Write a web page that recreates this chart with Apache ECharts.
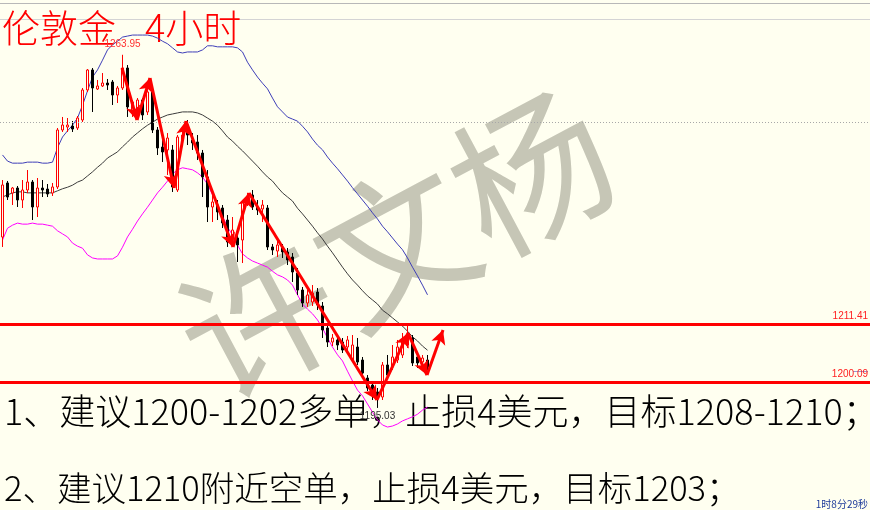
<!DOCTYPE html>
<html><head><meta charset="utf-8">
<script src="https://cdn.jsdelivr.net/npm/echarts@6/dist/echarts.min.js"></script>
<style>html,body{margin:0;padding:0;background:#fffff0;}#c{width:870px;height:510px;}</style>
</head><body><div id="c"></div>
<script>
// ---- data (4-hour XAUUSD candles) ----
const opens = [1228.39,1238.93,1236.97,1237.95,1235.61,1237.56,1239.12,1234.24,1237.95,1237.75,
1236.97,1238.15,1249.27,1249.85,1250.05,1249.66,1251.22,1257.08,1260.98,1257.27,
1257.86,1258.44,1258.64,1256.10,1257.47,1261.37,1252.78,1252.78,1255.12,1252.78,
1257.08,1249.27,1245.95,1245.37,1245.37,1237.56,1247.32,1250.24,1247.32,1246.93,
1244.78,1240.10,1234.24,1234.63,1234.05,1231.70,1228.19,1228.19,1227.80,1235.02,
1236.58,1234.24,1233.85,1234.05,1226.44,1225.65,1226.24,1225.46,1224.48,1221.36,
1218.04,1215.51,1215.70,1217.65,1214.92,1210.63,1207.89,1208.29,1207.89,1206.92,
1204.38,1206.92,1204.38,1200.87,1199.50,1198.14,1197.16,1203.41,1203.02,1204.38,
1205.36,1207.31,1208.68,1204.97,1203.99,1204.38];
const closes = [1238.54,1236.19,1237.95,1235.61,1237.56,1239.12,1234.24,1237.95,1237.56,1236.78,
1238.15,1249.27,1250.24,1250.24,1249.46,1251.61,1257.08,1260.98,1257.47,1257.86,
1258.44,1258.05,1256.10,1257.47,1261.37,1253.76,1254.73,1255.12,1252.20,1256.69,
1249.27,1245.76,1244.98,1247.71,1238.15,1247.90,1248.29,1248.29,1246.73,1244.78,
1240.10,1234.24,1235.22,1233.27,1231.12,1227.41,1229.75,1226.83,1235.22,1236.19,
1234.24,1233.66,1234.63,1226.44,1225.85,1226.83,1225.46,1223.90,1221.56,1218.04,
1215.51,1217.07,1217.46,1215.12,1210.24,1207.89,1208.68,1207.31,1206.33,1208.29,
1207.31,1203.99,1201.84,1198.92,1198.14,1197.16,1203.41,1201.45,1204.97,1206.92,
1208.29,1209.26,1203.80,1203.80,1204.77,1203.02];
const lows = [1226.44,1235.61,1234.63,1234.24,1234.05,1236.97,1231.70,1232.29,1236.19,1236.19,
1236.39,1237.75,1248.88,1248.88,1248.88,1249.27,1250.83,1256.69,1252.78,1257.08,
1257.66,1257.08,1254.15,1254.54,1257.08,1251.81,1251.81,1251.61,1251.22,1252.20,
1248.68,1244.39,1243.02,1240.49,1237.17,1237.17,1246.93,1246.34,1245.37,1243.41,
1236.19,1231.31,1231.31,1231.70,1230.14,1226.44,1226.44,1223.51,1223.31,1234.44,
1233.66,1232.68,1231.31,1225.85,1224.87,1224.48,1224.29,1222.92,1219.61,1217.07,
1214.73,1214.73,1214.92,1214.14,1208.68,1206.92,1207.11,1206.33,1205.75,1205.94,
1203.99,1203.41,1201.26,1198.33,1196.58,1195.03,1196.58,1200.87,1202.43,1203.80,
1204.77,1206.72,1203.21,1202.82,1203.41,1202.43];
const highs = [1239.51,1239.32,1238.15,1238.34,1239.51,1241.46,1239.51,1239.90,1239.51,1238.73,
1238.93,1249.66,1251.81,1251.61,1251.03,1252.00,1257.47,1261.17,1261.37,1259.03,
1260.39,1259.22,1259.03,1257.86,1263.95,1261.95,1255.12,1255.51,1255.51,1257.08,
1257.86,1249.85,1247.32,1248.68,1246.34,1248.29,1249.27,1251.22,1248.68,1248.29,
1245.37,1241.46,1236.58,1235.61,1234.63,1232.68,1232.29,1229.75,1235.61,1236.97,
1237.56,1235.61,1235.61,1234.63,1227.02,1227.80,1227.02,1226.24,1225.26,1222.34,
1218.63,1218.04,1219.02,1218.43,1215.70,1211.21,1209.46,1209.07,1208.68,1209.07,
1209.26,1208.68,1204.97,1201.45,1200.09,1198.92,1203.99,1205.36,1207.31,1208.29,
1209.65,1211.41,1209.26,1205.94,1205.36,1205.36];

// Bollinger bands as drawn on the chart
const bandUpper = [1244.4,1243.2,1242.8,1242.8,1242.8,1243.0,1243.0,1243.0,1242.8,1242.8,
1243.0,1245.8,1247.9,1249.1,1250.2,1251.6,1254.1,1256.9,1259.6,1261.0,
1262.9,1264.9,1265.9,1266.6,1267.4,1267.6,1267.8,1267.8,1267.8,1267.8,
1267.6,1267.2,1266.6,1266.1,1265.3,1264.5,1264.3,1264.5,1264.5,1264.5,
1264.9,1265.7,1265.7,1265.5,1265.5,1265.5,1265.5,1265.3,1264.5,1262.5,
1261.0,1259.6,1258.4,1257.3,1255.5,1253.8,1252.8,1251.8,1251.4,1251.0,
1250.0,1248.9,1247.5,1246.3,1245.4,1244.0,1242.8,1241.7,1240.5,1239.3,
1238.0,1236.8,1235.6,1234.4,1233.1,1231.9,1230.5,1229.4,1228.2,1227.0,
1225.9,1224.3,1222.5,1220.8,1219.0,1217.1];
const bandMiddle = [1236.2,1236.6,1237.0,1237.2,1237.2,1237.0,1237.0,1237.0,1237.0,1237.0,
1237.0,1237.4,1237.8,1238.1,1238.5,1239.1,1239.5,1240.3,1241.1,1242.0,
1242.8,1243.8,1244.4,1245.0,1246.0,1246.9,1247.9,1248.7,1249.5,1250.2,
1250.8,1251.4,1251.8,1252.2,1252.4,1252.6,1252.8,1252.8,1252.8,1252.6,
1252.2,1251.6,1251.0,1250.2,1249.1,1247.9,1247.1,1246.1,1245.2,1244.2,
1243.2,1242.2,1241.1,1240.1,1239.3,1238.1,1237.0,1236.2,1235.4,1234.0,
1232.9,1231.7,1230.5,1229.2,1228.0,1226.6,1225.3,1223.9,1222.5,1221.2,
1220.0,1219.0,1217.9,1216.9,1216.1,1215.3,1214.1,1213.4,1212.6,1211.8,
1211.0,1210.0,1208.9,1208.1,1207.1,1206.3];
const bandLower = [1227.8,1230.1,1230.7,1231.1,1230.9,1230.9,1231.1,1230.9,1230.9,1230.7,
1230.5,1229.6,1229.0,1228.4,1227.2,1226.6,1226.2,1224.9,1224.3,1224.1,
1224.1,1224.1,1224.1,1224.7,1226.4,1228.4,1229.9,1231.5,1232.9,1234.2,
1235.6,1237.0,1238.1,1239.3,1240.7,1241.5,1241.9,1241.7,1241.5,1240.9,
1240.1,1238.7,1236.6,1234.6,1232.5,1230.3,1228.8,1226.8,1225.1,1224.3,
1223.7,1223.3,1222.9,1222.5,1221.7,1221.0,1220.6,1220.0,1219.0,1217.1,
1215.3,1214.3,1213.4,1212.2,1210.6,1208.7,1206.9,1205.4,1204.2,1202.2,
1200.3,1198.5,1197.4,1195.8,1194.2,1192.7,1191.7,1191.3,1191.5,1191.9,
1192.5,1192.9,1193.3,1193.8,1194.6,1195.2];

// hand-drawn zigzag arrows (bar position, price)
const arrowX = [23.9, 26.9, 29.5, 34.3, 36.7, 46.1, 49.3, 74.9, 81.1, 84.9, 88.1];
const arrowY = [1261.37, 1251.22, 1259.42, 1237.95, 1251.03, 1226.44, 1236.97, 1196.58, 1209.65, 1201.45, 1210.24];

// horizontal levels
const levelLines = [1211.41, 1200.09];
const dottedLevel = 1250.83;

const slotCount = 174;   // visible bar slots on the screen
const yMin = 1175.11, yMax = 1274.64;

const titleLeft = '伦敦金';
const titleRight = '4小时';
const watermark = '许文杨';
const note1 = '1、建议1200-1202多单，止损4美元，目标1208-1210；';
const note2 = '2、建议1210附近空单，止损4美元，目标1203；';
const timerText = '1时8分29秒';

// ---- build ----
const categories = Array.from({length: slotCount}, (_, i) => String(i));
const candleData = opens.map((o, i) => [o, closes[i], lows[i], highs[i]]);
const arrowPoints = arrowX.map((x, i) => [x, arrowY[i]]);
const arrowSegments = [];
for (let k = 0; k < arrowPoints.length - 1; k++) {
  arrowSegments.push([{coord: arrowPoints[k]}, {coord: arrowPoints[k + 1]}]);
}

const chart = echarts.init(document.getElementById('c'));
const cjk = '"Noto Sans CJK SC", sans-serif';
const option = {
  backgroundColor: '#fffff0',
  animation: false,
  grid: {left: 0, right: 0, top: 0, bottom: 0},
  xAxis: [
    {type: 'category', data: categories, show: false, boundaryGap: true},
    {type: 'value', min: -0.5, max: slotCount - 0.5, show: false}
  ],
  yAxis: {type: 'value', min: yMin, max: yMax, show: false, splitLine: {show: false}},
  graphic: [
    {type: 'line', z: 0, shape: {x1: 0, y1: 3.5, x2: 870, y2: 3.5}, style: {stroke: '#b8b8b8', lineWidth: 1}},
    {type: 'line', z: 0, shape: {x1: 0, y1: 19.5, x2: 870, y2: 19.5}, style: {stroke: '#d4d4d4', lineWidth: 1}},
    {type: 'text', z: 0, x: 395, y: 245, rotation: 0.49,
      style: {text: watermark, font: '400 155px ' + cjk, fill: '#c6c6b6', align: 'center', verticalAlign: 'middle', textAlign: 'center', textVerticalAlign: 'middle'}},
    {type: 'text', z: 0, x: 2, y: 28,
      style: {text: titleLeft, font: '300 38px ' + cjk, fill: '#ff0000', align: 'left', verticalAlign: 'middle', textAlign: 'left', textVerticalAlign: 'middle'}},
    {type: 'text', z: 0, x: 145, y: 28,
      style: {text: titleRight, font: '300 38px ' + cjk, fill: '#ff0000', align: 'left', verticalAlign: 'middle', textAlign: 'left', textVerticalAlign: 'middle'}},
    {type: 'text', z: 0, x: 4, y: 411,
      style: {text: note1, font: '300 36px ' + cjk, fill: '#000000', align: 'left', verticalAlign: 'middle', textAlign: 'left', textVerticalAlign: 'middle'}},
    {type: 'text', z: 0, x: 4, y: 488,
      style: {text: note2, font: '300 34.5px ' + cjk, fill: '#000000', align: 'left', verticalAlign: 'middle', textAlign: 'left', textVerticalAlign: 'middle'}},
    {type: 'text', z: 0, x: 868, y: 504,
      style: {text: timerText, font: '10px ' + cjk, fill: '#1f3c9a', align: 'right', verticalAlign: 'middle', textAlign: 'right', textVerticalAlign: 'middle'}},
    {type: 'line', z: 0, shape: {x1: 853, y1: 371.5, x2: 868, y2: 371.5}, style: {stroke: '#9a9ad0', lineWidth: 1}}
  ],
  series: [
    {type: 'line', name: 'upper', data: bandUpper, symbol: 'none', silent: true, z: 2,
      lineStyle: {color: '#3e3eb8', width: 1}},
    {type: 'line', name: 'middle', data: bandMiddle, symbol: 'none', silent: true, z: 2,
      lineStyle: {color: '#3c3c3c', width: 1}},
    {type: 'line', name: 'lower', data: bandLower, symbol: 'none', silent: true, z: 2,
      lineStyle: {color: '#ff00ff', width: 1}},
    {type: 'candlestick', name: 'XAUUSD', data: candleData, barWidth: 3, z: 3,
      itemStyle: {color: '#fffff0', color0: '#000000', borderColor: '#ff0000', borderColor0: '#000000', borderWidth: 1},
      markPoint: {
        symbol: 'rect', symbolSize: 0, silent: true,
        data: [
          {type: 'max', valueDim: 'highest',
            label: {show: true, position: 'top', distance: 6, color: '#ff3030', fontSize: 10, fontFamily: 'Liberation Sans',
              formatter: p => p.value.toFixed(2)}},
          {type: 'min', valueDim: 'lowest',
            label: {show: true, position: 'bottom', distance: 3, color: '#303030', fontSize: 10, fontFamily: 'Liberation Sans',
              formatter: p => p.value.toFixed(2)}}
        ]
      },
      markLine: {
        symbol: 'none', silent: true,
        data: [
          ...levelLines.map(v => ({yAxis: v})),
          {yAxis: dottedLevel, lineStyle: {color: '#a8a8a8', width: 1, type: [1, 2]}, label: {show: false}}
        ],
        lineStyle: {color: '#ff0000', width: 3, type: 'solid'},
        label: {show: true, position: 'insideEndTop', distance: [2, 3], color: '#ff2020', fontSize: 10,
          fontFamily: 'Liberation Sans', formatter: p => p.value.toFixed(2)}
      }
    },
    {type: 'line', name: 'arrows', xAxisIndex: 1, data: arrowPoints, symbol: 'none', silent: true, z: 5,
      lineStyle: {opacity: 0},
      markLine: {
        silent: true, symbol: ['none', 'arrow'], symbolSize: [11, 14],
        lineStyle: {color: '#ff0000', width: 3, type: 'solid'},
        label: {show: false},
        data: arrowSegments
      }
    }
  ]
};
chart.setOption(option);
</script>
</body></html>
